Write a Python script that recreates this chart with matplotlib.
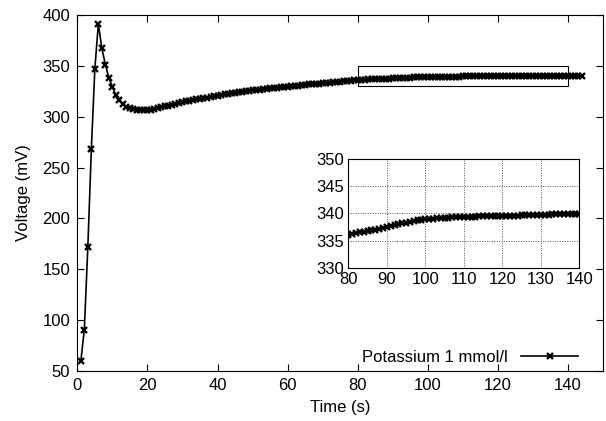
import matplotlib
matplotlib.use("Agg")
import matplotlib.pyplot as plt
from matplotlib.patches import Rectangle

plt.rcParams['font.family'] = ['Liberation Sans', 'DejaVu Sans']
plt.rcParams['font.size'] = 12

# time in seconds, voltage in mV
time = list(range(1, 145))
voltage = [
    60, 91, 172, 268, 347, 391, 367, 351, 338, 329,
    321, 316, 312, 309.5, 308, 307, 306.4, 306.1, 306.0, 306.2,
    306.7, 307.4, 308.2, 309.0, 309.9, 310.8, 311.7, 312.5, 313.3, 314.1,
    314.8, 315.5, 316.2, 316.8, 317.5, 318.1, 318.7, 319.3, 319.9, 320.5,
    321.1, 321.7, 322.2, 322.7, 323.2, 323.7, 324.2, 324.7, 325.1, 325.6,
    326.0, 326.4, 326.8, 327.2, 327.6, 328.0, 328.4, 328.7, 329.1, 329.4,
    329.8, 330.1, 330.5, 330.8, 331.1, 331.5, 331.8, 332.1, 332.4, 332.7,
    333.0, 333.3, 333.6, 333.9, 334.2, 334.6, 334.9, 335.3, 335.7, 336.0,
    336.2, 336.3, 336.5, 336.6, 336.8, 336.9, 337.0, 337.1, 337.3, 337.4,
    337.6, 337.8, 338.0, 338.2, 338.3, 338.5, 338.6, 338.7, 338.8, 338.9,
    339.0, 339.0, 339.1, 339.1, 339.2, 339.2, 339.3, 339.3, 339.3, 339.4,
    339.4, 339.4, 339.4, 339.5, 339.5, 339.5, 339.5, 339.5, 339.6, 339.6,
    339.6, 339.6, 339.6, 339.6, 339.7, 339.7, 339.7, 339.7, 339.7, 339.7,
    339.7, 339.7, 339.8, 339.8, 339.8, 339.8, 339.8, 339.8, 339.8, 339.8,
    339.8, 339.8, 339.8, 339.8,
]
label = "Potassium 1 mmol/l"
zoom_x = (80, 140)
zoom_y = (330, 350)

fig = plt.figure(figsize=(6.06, 4.21), dpi=100)
ax = fig.add_axes([0.1276, 0.1181, 0.8675, 0.847])

style = dict(color='black', linewidth=1.2, marker='x', markersize=5,
             markeredgewidth=1.7)
ax.plot(time, voltage, label=label, **style)
ax.set_xlim(0, 150)
ax.set_ylim(50, 400)
ax.set_xticks(range(0, 141, 20))
ax.set_yticks(range(50, 401, 50))
ax.tick_params(direction='in', top=True, right=True, length=5, width=0.8,
               labelsize=12, pad=5)
ax.set_xlabel("Time (s)", fontsize=12, labelpad=5)
ax.set_ylabel("Voltage (mV)", fontsize=12, labelpad=8)

ax.add_patch(Rectangle((zoom_x[0], zoom_y[0]), zoom_x[1] - zoom_x[0],
                       zoom_y[1] - zoom_y[0], fill=False,
                       edgecolor='black', linewidth=0.8, zorder=3))

ax.legend(loc='center right', bbox_to_anchor=(0.965, 0.038), frameon=False,
          markerfirst=False, handlelength=3.4, fontsize=12,
          borderaxespad=0, handletextpad=0.8)

ins = fig.add_axes([0.5748, 0.3641, 0.3812, 0.2582])
ins.plot(time, voltage, **style)
ins.set_xlim(*zoom_x)
ins.set_ylim(*zoom_y)
ins.set_xticks(range(80, 141, 10))
ins.set_yticks(range(330, 351, 5))
ins.grid(True, linestyle=(0, (1, 1.5)), color='#555555', linewidth=0.7)
ins.tick_params(direction='in', length=0, labelsize=12, pad=3)

fig.savefig("out.png", dpi=100)
